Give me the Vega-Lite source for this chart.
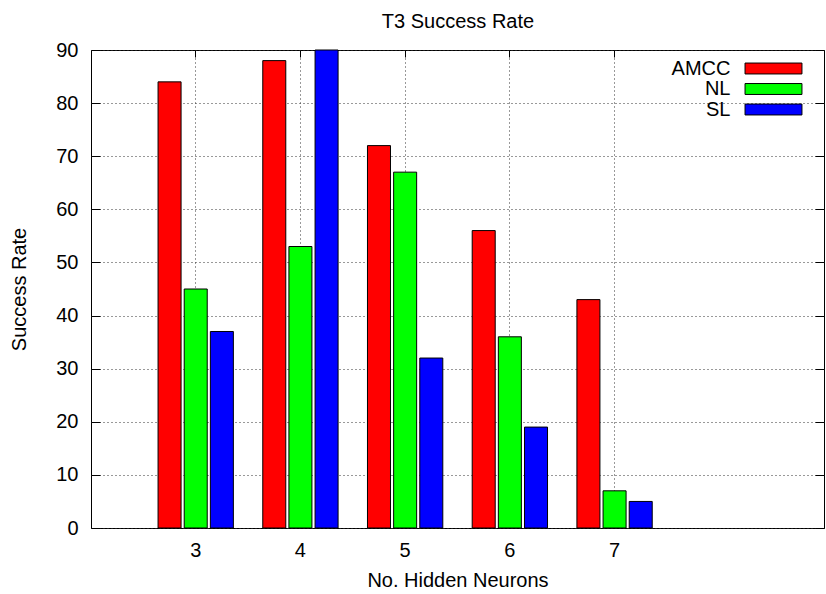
{
  "$schema": "https://vega.github.io/schema/vega-lite/v6.json",
  "width": 733,
  "height": 478,
  "autosize": "none",
  "padding": {"left": 91, "top": 50, "right": 2, "bottom": 66},
  "background": "white",
  "config": {
    "view": {"stroke": "#000", "strokeWidth": 1},
    "font": "Liberation Sans",
    "axis": {
      "labelFont": "Liberation Sans", "labelFontSize": 20, "labelColor": "#000",
      "titleFont": "Liberation Sans", "titleFontSize": 20, "titleFontWeight": "normal", "titleColor": "#000",
      "tickColor": "#000", "tickWidth": 1,
      "gridColor": "#333", "gridDash": [1, 3], "gridWidth": 1,
      "domain": false
    },
    "legend": {
      "orient": "none", "legendX": 672.5, "legendY": 8.5, "padding": 0,
      "labelFont": "Liberation Sans", "labelFontSize": 20, "labelColor": "#000",
      "labelAlign": "right", "labelOffset": -53, "rowPadding": 0.5,
      "symbolType": "M-6,-1.15H6V1.15H-6Z", "symbolSize": 90,
      "symbolStrokeColor": "#000", "symbolStrokeWidth": 1, "symbolOpacity": 1
    }
  },
  "data": {"values": [
    {"neurons": "3", "series": "AMCC", "rate": 84},
    {"neurons": "3", "series": "NL", "rate": 45},
    {"neurons": "3", "series": "SL", "rate": 37},
    {"neurons": "4", "series": "AMCC", "rate": 88},
    {"neurons": "4", "series": "NL", "rate": 53},
    {"neurons": "4", "series": "SL", "rate": 90},
    {"neurons": "5", "series": "AMCC", "rate": 72},
    {"neurons": "5", "series": "NL", "rate": 67},
    {"neurons": "5", "series": "SL", "rate": 32},
    {"neurons": "6", "series": "AMCC", "rate": 56},
    {"neurons": "6", "series": "NL", "rate": 36},
    {"neurons": "6", "series": "SL", "rate": 19},
    {"neurons": "7", "series": "AMCC", "rate": 43},
    {"neurons": "7", "series": "NL", "rate": 7},
    {"neurons": "7", "series": "SL", "rate": 5}
  ]},
  "resolve": {"axis": {"x": "independent", "y": "independent"}},
  "layer": [
    {
      "mark": {"type": "bar", "stroke": "#000", "strokeWidth": 1, "opacity": 1},
      "encoding": {
        "x": {"field": "neurons", "type": "ordinal",
          "scale": {"domain": ["3", "4", "5", "6", "7"], "paddingInner": 0, "paddingOuter": 1, "align": 0.25},
          "axis": {"orient": "bottom", "title": "No. Hidden Neurons", "labelAngle": 0, "grid": true, "tickSize": -7, "labelPadding": 35, "labelBaseline": "alphabetic", "titleY": 58, "titleBaseline": "alphabetic"}},
        "y": {"field": "rate", "type": "quantitative",
          "scale": {"domain": [0, 90], "nice": false, "zero": true},
          "axis": {"orient": "left", "title": "Success Rate", "values": [0, 10, 20, 30, 40, 50, 60, 70, 80, 90], "grid": true, "tickSize": -9, "labelPadding": 22, "titleX": -66, "titleBaseline": "alphabetic"}},
        "xOffset": {"field": "series", "type": "nominal",
          "scale": {"domain": ["AMCC", "NL", "SL"], "paddingInner": 0.12, "paddingOuter": 0.562}},
        "color": {"field": "series", "type": "nominal",
          "scale": {"domain": ["AMCC", "NL", "SL"], "range": ["#ff0000", "#00ff00", "#0000ff"]},
          "legend": {"title": null}}
      }
    },
    {
      "mark": {"type": "bar", "opacity": 0},
      "encoding": {
        "x": {"field": "neurons", "type": "ordinal",
          "axis": {"orient": "top", "labels": false, "grid": false, "tickSize": -7, "title": "T3 Success Rate", "titleY": -22.5, "titleBaseline": "alphabetic", "titleAnchor": "middle", "domain": false}},
        "y": {"field": "rate", "type": "quantitative",
          "axis": {"orient": "right", "labels": false, "grid": false, "tickSize": -9, "title": null, "domain": false, "values": [0, 10, 20, 30, 40, 50, 60, 70, 80, 90]}}
      }
    }
  ]
}
